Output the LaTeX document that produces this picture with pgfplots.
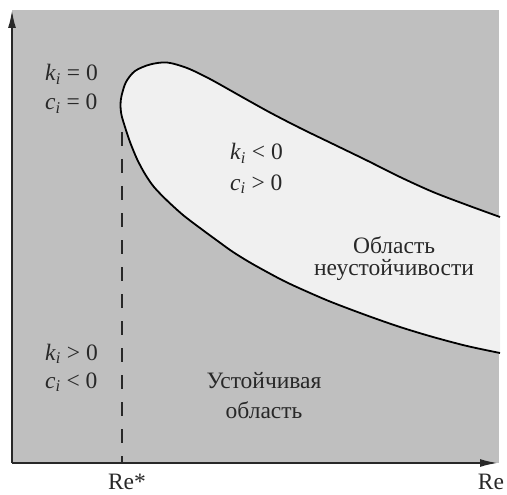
\documentclass[border=0pt]{standalone}
\usepackage{fontspec}
\setmainfont{Liberation Serif}
\newfontfamily\lserif{Liberation Serif}
\usepackage{pgfplots}
\pgfplotsset{compat=1.18}
\usetikzlibrary{arrows.meta}
\definecolor{bggray}{RGB}{191,191,191}
\definecolor{inner}{RGB}{240,240,240}
\definecolor{ink}{RGB}{40,40,40}
\newcommand\lbl{\lserif\fontsize{23.5}{28}\selectfont}
\newcommand\kk[1]{\textit{#1}\textsubscript{\textit{i}}}
\begin{document}
\begin{tikzpicture}
\begin{axis}[
  x=1pt, y=1pt,
  xmin=0, xmax=507, ymin=0, ymax=495,
  y dir=reverse,
  hide axis,
  clip=false,
]
% gray background
\addplot[fill=bggray, draw=none] coordinates {(12,10) (499,10) (499,463) (12,463)} -- cycle;
% instability region
\addplot[fill=inner, draw=black, line width=1.8pt, smooth, tension=0.5] coordinates {
(500,217) (467,205) (433,192) (400,177) (367,160.5) (333,144) (300,128) (270,112.5)
(243,97.5) (210,79) (187,68) (167,62.5) (150,64.5) (135,71) (126,82) (121.5,96) (120.5,105)
(121.5,115) (125,127) (130,142) (137,159) (145,174) (154,187) (167,200.5) (183,215)
(200,228) (217,240.5) (233,252) (250,262.5) (267,272) (283,280.5) (300,288.5)
(330,301.5) (367,315.5) (400,327) (433,337) (467,346) (500,353)};
% dashed line
\addplot[ink, line width=2pt, dash pattern=on 14pt off 13pt] coordinates {(122,132) (122,463)};
% axes
\addplot[ink, line width=2pt, -{Latex[length=18pt,width=8pt]}] coordinates {(12,463) (12,10)};
\addplot[ink, line width=2pt, -{Latex[length=18pt,width=8pt]}] coordinates {(12,463) (498,463)};
% labels
\node[anchor=base west, text=ink, font=\lbl, inner sep=0pt] at (axis cs:45,81) {\kk{k} = 0};
\node[anchor=base west, text=ink, font=\lbl, inner sep=0pt] at (axis cs:45,110) {\kk{c} = 0};
\node[anchor=base west, text=ink, font=\lbl, inner sep=0pt] at (axis cs:230,160) {\kk{k} < 0};
\node[anchor=base west, text=ink, font=\lbl, inner sep=0pt] at (axis cs:230,190) {\kk{c} > 0};
\node[anchor=base west, text=ink, font=\lbl, inner sep=0pt] at (axis cs:45,360) {\kk{k} > 0};
\node[anchor=base west, text=ink, font=\lbl, inner sep=0pt] at (axis cs:45,388) {\kk{c} < 0};
\node[anchor=base, text=ink, font=\lbl, inner sep=0pt] at (axis cs:394,253) {Область};
\node[anchor=base, text=ink, font=\lbl, inner sep=0pt] at (axis cs:394,276) {неустойчивости};
\node[anchor=base, text=ink, font=\lbl, inner sep=0pt] at (axis cs:264,388) {Устойчивая};
\node[anchor=base, text=ink, font=\lbl, inner sep=0pt] at (axis cs:264,418) {область};
\node[anchor=base, text=ink, font=\lbl, inner sep=0pt] at (axis cs:127,489) {Re*};
\node[anchor=base, text=ink, font=\lbl, inner sep=0pt] at (axis cs:491,489) {Re};
\path (axis cs:0,0) rectangle (axis cs:507,495);
\end{axis}
\end{tikzpicture}
\end{document}
